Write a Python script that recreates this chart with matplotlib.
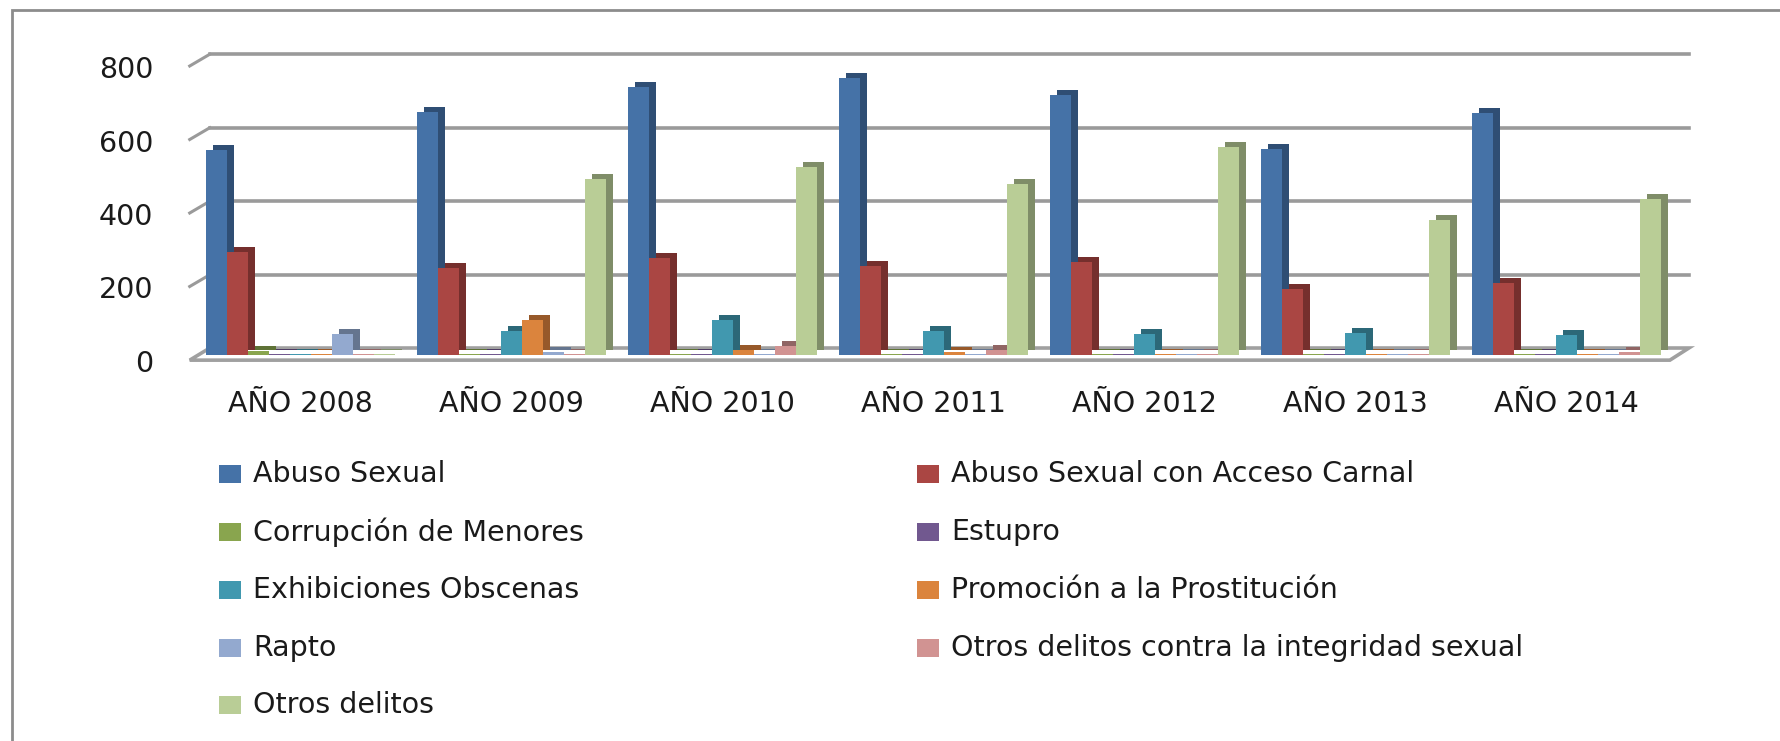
import matplotlib
matplotlib.use("Agg")
import matplotlib.pyplot as plt
from matplotlib.patches import Rectangle, Polygon
from matplotlib.transforms import offset_copy, ScaledTranslation
import numpy as np

years = ["AÑO 2008", "AÑO 2009", "AÑO 2010", "AÑO 2011", "AÑO 2012", "AÑO 2013", "AÑO 2014"]
series = ["Abuso Sexual", "Abuso Sexual con Acceso Carnal", "Corrupción de Menores", "Estupro",
          "Exhibiciones Obscenas", "Promoción a la Prostitución", "Rapto",
          "Otros delitos contra la integridad sexual", "Otros delitos"]

abuso_sexual = [557, 660, 728, 755, 707, 560, 658]
abuso_acceso = [280, 236, 264, 242, 253, 179, 196]
corrupcion = [12, 3, 3, 3, 3, 2, 2]
estupro = [2, 2, 2, 2, 2, 2, 2]
exhibiciones = [2, 65, 95, 65, 57, 60, 54]
promocion = [3, 95, 14, 8, 2, 3, 3]
rapto = [57, 8, 3, 3, 2, 2, 2]
otros_integridad = [2, 3, 25, 14, 3, 3, 8]
otros_delitos = [2, 478, 511, 465, 565, 367, 424]

values = [abuso_sexual, abuso_acceso, corrupcion, estupro, exhibiciones,
          promocion, rapto, otros_integridad, otros_delitos]
colors = ["#4572A7", "#AA4643", "#89A54E", "#71588F", "#4198AF",
          "#DB843D", "#93A9CF", "#D19392", "#B9CD96"]
sides = ["#2F4E74", "#752F2D", "#5E7236", "#4D3C62", "#2C6878",
          "#97592A", "#65758F", "#906564", "#7F8D68"]

W, H = 1780, 741
fig = plt.figure(figsize=(W / 100, H / 100), dpi=100)
ax = fig.add_axes([195 / W, 1 - 355 / H, (1672 - 195) / W, (355 - 61) / H])
ax.set_xlim(-0.5, len(years) - 0.5)
ax.set_ylim(0, 800)
ax.set_facecolor("none")
for s in ax.spines.values():
    s.set_visible(False)

# back wall gridlines with the short side-wall stubs
back = offset_copy(ax.transData, fig=fig, x=0, y=7, units="dots")
stub = offset_copy(ax.transData, fig=fig, x=0, y=-5, units="dots")
for yv in [200, 400, 600, 800]:
    ax.plot([-0.43, 6.58], [yv, yv], color="#9A9A9A", lw=2.6, transform=back,
            clip_on=False, zorder=0)
    ax.plot([-0.525, -0.43], [yv, yv + 32], color="#9A9A9A", lw=2.2,
            transform=stub, clip_on=False, zorder=0)

# floor slab
floor = Polygon([[-0.525, -14], [6.49, -14], [6.58, 19], [-0.43, 19]], closed=True,
                facecolor="white", edgecolor="#A0A0A0", lw=2.6, zorder=0.5,
                transform=ax.transData, clip_on=False)
ax.add_patch(floor)

x = np.arange(len(years))
w = 0.1
depth = offset_copy(ax.transData, fig=fig, x=7, y=5, units="dots")
for j, vals in enumerate(values):
    xs = x + (j - 4) * w
    ax.bar(xs, vals, width=w, color=sides[j], transform=depth, zorder=1 + j * 0.01,
           clip_on=False)
    ax.bar(xs, vals, width=w, color=colors[j], zorder=1.005 + j * 0.01, clip_on=False)

ax.set_yticks([0, 200, 400, 600, 800])
ax.set_xticks(x)
ax.set_xticklabels(years)
ax.tick_params(axis="both", length=0, labelsize=20.5, colors="#1A1A1A")
ax.tick_params(axis="x", pad=25)
ax.tick_params(axis="y", pad=30)
shift = ScaledTranslation(0, -6 / 100, fig.dpi_scale_trans)
for lab in ax.get_yticklabels():
    lab.set_transform(lab.get_transform() + shift)

# legend laid out like the original, row by row in two columns
col_x = [219, 917]
row_y = [474, 532, 590, 648, 705]
for k, name in enumerate(series):
    r, c = divmod(k, 2)
    px, py = col_x[c], row_y[r]
    fig.patches.append(Rectangle((px / W, 1 - (py + 9) / H), 22 / W, 18 / H,
                                 facecolor=colors[k], transform=fig.transFigure))
    fig.text((px + 34) / W, 1 - py / H, name, fontsize=20.5, color="#1A1A1A",
             va="center", ha="left")

# chart border
fig.patches.append(Rectangle((12 / W, -0.05), 1.2, 1 - 10 / H + 0.05, fill=False,
                             edgecolor="#8C8C8C", lw=2, transform=fig.transFigure))

fig.savefig("out.png", dpi=100)
